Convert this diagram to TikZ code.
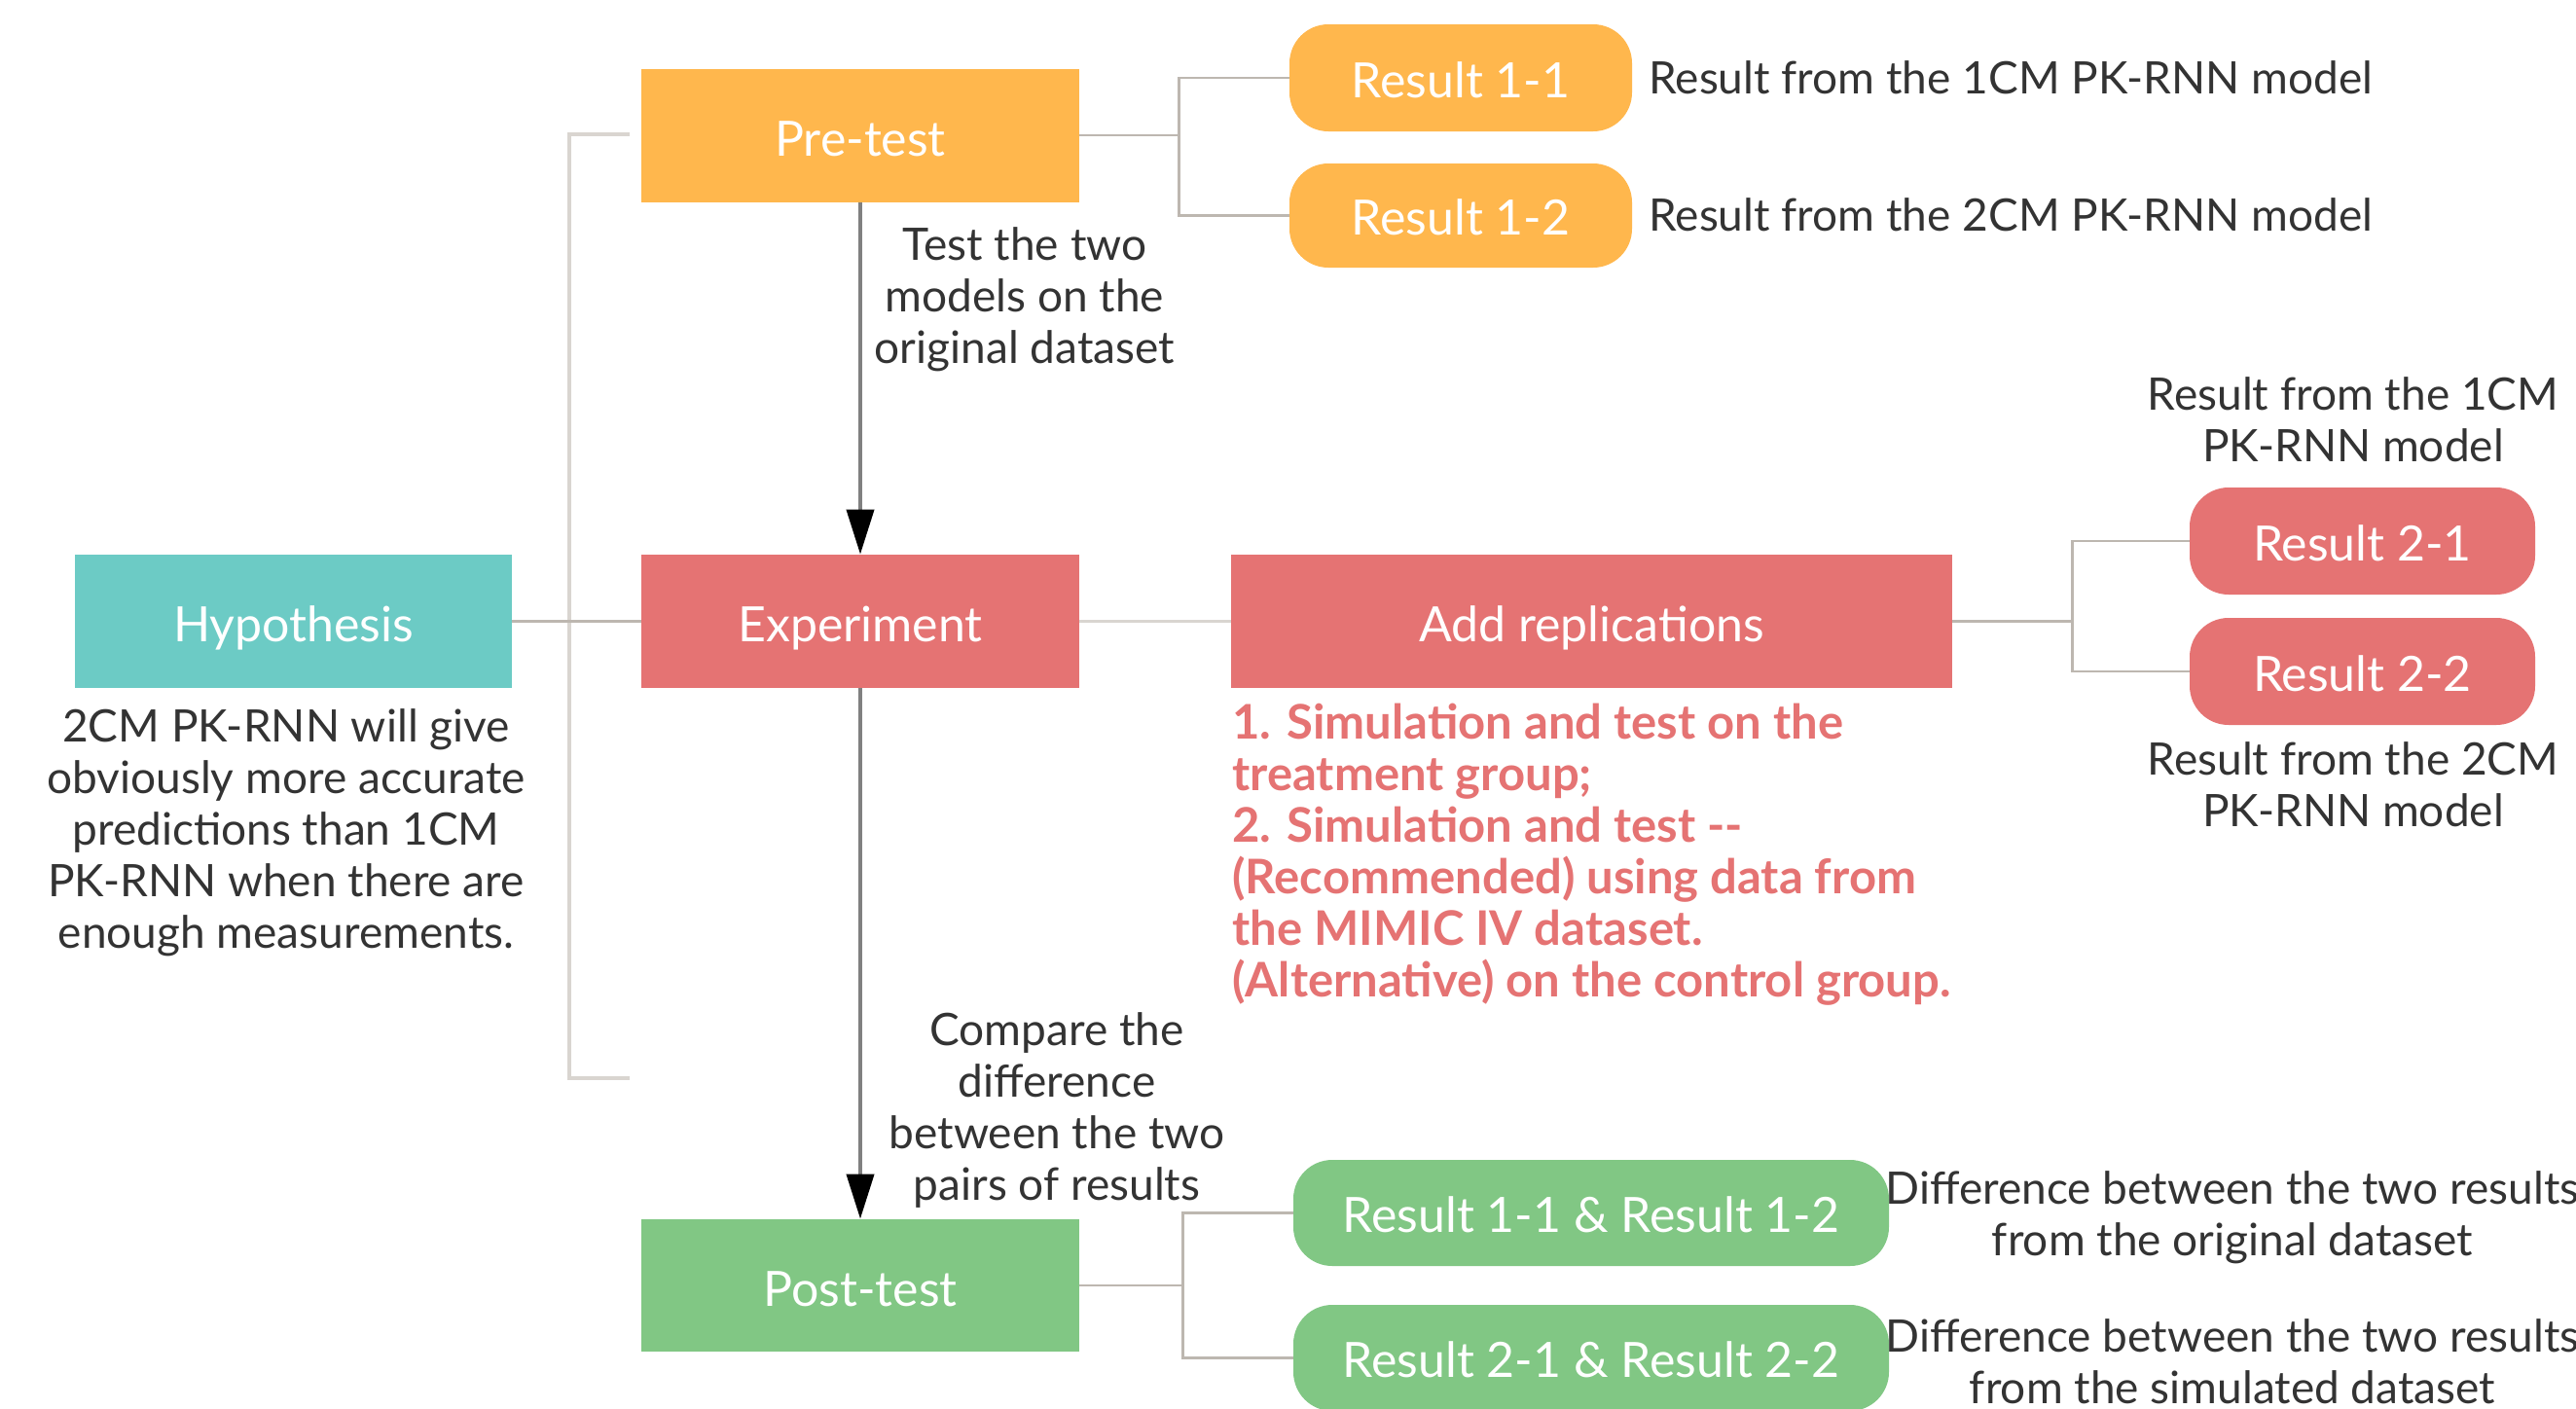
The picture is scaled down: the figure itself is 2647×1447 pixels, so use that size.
\documentclass[tikz,border=0pt]{standalone}
\usepackage{fontspec}
\setmainfont{Lato}
\usetikzlibrary{arrows.meta}
\definecolor{corange}{HTML}{FFB74D}
\definecolor{cred}{HTML}{E57373}
\definecolor{cteal}{HTML}{6CCBC5}
\definecolor{cgreen}{HTML}{81C784}
\definecolor{ctext}{HTML}{333333}
\definecolor{cline}{HTML}{BDB7B0}
\definecolor{cbracket}{HTML}{D9D5D0}
\definecolor{carrow}{HTML}{808080}
\begin{document}
\begin{tikzpicture}[x=0.5pt,y=-0.5pt,
  font=\fontsize{23}{26.5}\selectfont,
  box/.style={rectangle,inner sep=0pt,text=white,font=\fontsize{25}{30}\selectfont,text height=25pt,text depth=4pt,minimum width=225pt,minimum height=68.5pt},
  pill/.style={rectangle,rounded corners=20pt,inner sep=0pt,text=white,font=\fontsize{25}{30}\selectfont,text height=24pt,text depth=4pt,minimum width=176pt,minimum height=55pt},
  note/.style={text=ctext,align=center,inner sep=0pt},
  conn/.style={draw=cline,line width=1.4pt},
  bracketline/.style={draw=cbracket,line width=2pt},
  arr/.style={draw=carrow,line width=2pt,-{Triangle[length=23pt,width=14pt,fill=black,color=black]}}]
\useasboundingbox[fill=white] (0,0) rectangle (2647,1447);

% main boxes
\node[box,fill=corange] (pre) at (884,139) {Pre-test};
\node[box,fill=cred] (exp) at (884,638.5) {Experiment};
\node[box,fill=cgreen,minimum height=68pt] (post) at (884,1321) {Post-test};
\node[box,fill=cteal,minimum width=224.5pt] (hyp) at (301.5,638.5) {Hypothesis};
\node[box,fill=cred,minimum width=370.5pt] (add) at (1635.5,638.5) {Add replications};

% result pills
\node[pill,fill=corange] (r11) at (1501,80) {Result 1-1};
\node[pill,fill=corange,minimum height=53.5pt] (r12) at (1501,221.5) {Result 1-2};
\node[pill,fill=cred,minimum width=177.5pt] (r21) at (2427.5,556) {Result 2-1};
\node[pill,fill=cred,minimum width=177.5pt] (r22) at (2427.5,690) {Result 2-2};
\node[pill,fill=cgreen,minimum width=306pt,minimum height=54.5pt] (g1) at (1635,1246.5) {Result 1-1 \& Result 1-2};
\node[pill,fill=cgreen,minimum width=306pt,minimum height=54.5pt] (g2) at (1635,1395.5) {Result 2-1 \& Result 2-2};

% bracket
\coordinate (bt) at (647,138);
\coordinate (bb) at (647,1108);
\draw[bracketline] (bt) -- (585,138) -- (585,1108) -- (bb);

% connectors
\draw[conn] (hyp.east) -- (exp.west);
\draw[conn,draw=cbracket] (exp.east) -- (add.west);
\draw[conn] (pre.east) -- ++(51pt,0) |- (r11.west);
\draw[conn] (pre.east) ++(51pt,0) |- (r12.west);
\draw[conn] (add.east) -- ++(61.5pt,0) |- (r21.west);
\draw[conn] (add.east) ++(61.5pt,0) |- (r22.west);
\draw[conn] (post.east) -- ++(53pt,0) |- (g1.west);
\draw[conn] (post.east) ++(53pt,0) |- (g2.west);

\draw[arr] (pre.south) -- (exp.north);
\draw[arr] (exp.south) -- (post.north);

% notes
\node[note] (t1) at (1053,308) {Test the two\\models on the\\original dataset};
\node[note] (t2) at (1086,1141) {Compare the\\difference\\between the two\\pairs of results};
\node[note] (t3) at (294,856) {2CM PK-RNN will give\\obviously more accurate\\predictions than 1CM\\PK-RNN when there are\\enough measurements.};
\node[note,anchor=west] (t4) at (1694,80) {Result from the 1CM PK-RNN model};
\node[note,anchor=west] (t5) at (1694,221) {Result from the 2CM PK-RNN model};
\node[note] (t6) at (2418,431) {Result from the 1CM\\PK-RNN model};
\node[note] (t7) at (2418,806) {Result from the 2CM\\PK-RNN model};
\node[note,anchor=west,align=left,text=cred,font=\fontsize{24.5}{26.5}\selectfont\bfseries] (t8) at (1266,878) {1. Simulation and test on the\\treatment group;\\2. Simulation and test {-}{-}\\(Recommended) using data from\\the MIMIC IV dataset.\\(Alternative) on the control group.};
\node[note] (t9) at (2294,1251) {Difference between the two results\\from the original dataset};
\node[note] (t10) at (2294,1399) {Difference between the two results\\from the simulated dataset};
\end{tikzpicture}
\end{document}
